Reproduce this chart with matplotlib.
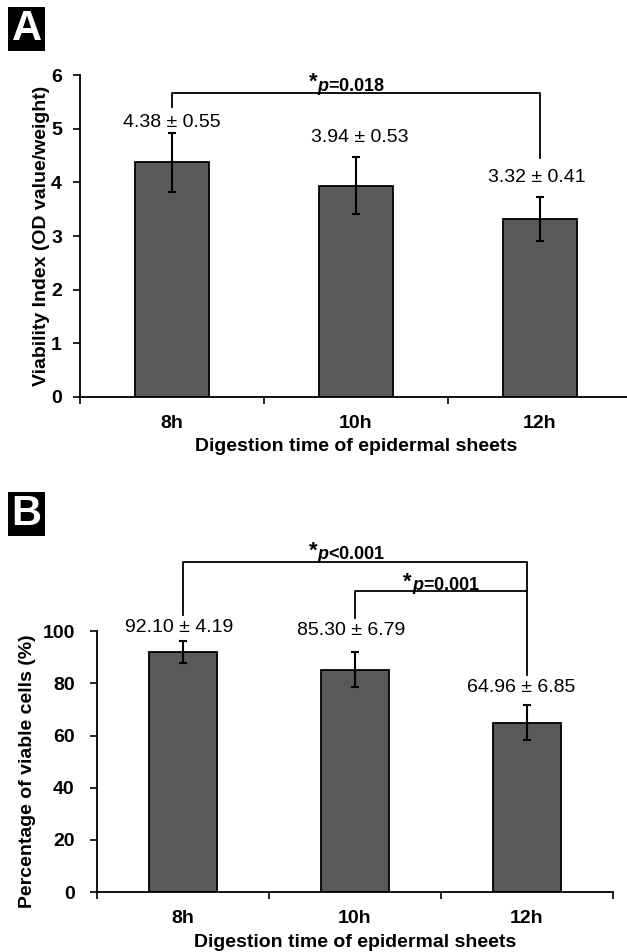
import matplotlib
matplotlib.use('Agg')
import matplotlib.pyplot as plt
from matplotlib.patches import Rectangle

plt.rcParams['font.family'] = ['Liberation Sans', 'DejaVu Sans']
plt.rcParams['mathtext.fontset'] = 'custom'
plt.rcParams['mathtext.it'] = 'Liberation Sans:italic:bold'
plt.rcParams['mathtext.bf'] = 'Liberation Sans:italic:bold'

# data
categories = ['8h', '10h', '12h']
viability_mean = [4.38, 3.94, 3.32]
viability_sd = [0.55, 0.53, 0.41]
viable_pct_mean = [92.10, 85.30, 64.96]
viable_pct_sd = [4.19, 6.79, 6.85]

# significance pairs: (from bar, to bar, bracket height, p text)
sig_a = [(1, 3, 5.66, 'p=0.018')]
sig_b = [(1, 3, 126.4, 'p<0.001'), (2, 3, 115.3, 'p=0.001')]

BAR_COLOR = '#595959'


def draw_panel(ax, means, sds, ymax, yticks, ylabel, ypad):
    x = [1, 2, 3]
    ax.bar(x, means, width=0.4, color=BAR_COLOR, edgecolor='black', linewidth=1.3, zorder=2)
    ax.errorbar(x, means, yerr=sds, fmt='none', ecolor='black', elinewidth=1.5,
                capsize=3, capthick=1.5, zorder=3)
    ax.set_xlim(0.5, 3.5)
    ax.set_ylim(0, ymax)
    ax.set_yticks(yticks)
    ax.set_xticks(x)
    ax.set_xticklabels(categories)
    ax.set_xticks([0.5, 1.5, 2.5, 3.5], minor=True)
    ax.tick_params(axis='x', which='major', length=0, pad=13, labelsize=14)
    ax.tick_params(axis='x', which='minor', length=5, width=1.2, direction='out')
    ax.tick_params(axis='y', length=5, width=1.2, direction='out', labelsize=14, pad=ypad)
    for lab in ax.get_xticklabels() + ax.get_yticklabels():
        lab.set_fontweight('bold')
    for s in ['top', 'right']:
        ax.spines[s].set_visible(False)
    for s in ['left', 'bottom']:
        ax.spines[s].set_linewidth(1.3)
    ax.set_ylabel(ylabel, fontsize=14, fontweight='bold')
    ax.set_xlabel('Digestion time of epidermal sheets', fontsize=14, fontweight='bold')
    ax.xaxis.label.set_va('center')
    ax.yaxis.label.set_va('center')


def value_labels(ax, means, sds, offsets, dx):
    for i, (m, s) in enumerate(zip(means, sds)):
        ax.text(i + 1 + dx[i], m + s + offsets[i], f'{m:.2f} \u00b1 {s:.2f}',
                ha='center', va='center', fontsize=14)


def bracket(ax, x1, x2, h, d1, d2, text, tx, ty):
    ax.plot([x1, x1, x2, x2], [d1, h, h, d2], color='black', lw=1.3, clip_on=False, zorder=4)
    ax.text(tx, ty, '*', ha='right', va='center', fontsize=16, fontweight='bold')
    ax.text(tx, ty - 0.012 * ax.get_ylim()[1], r'$\mathit{p}$' + text[1:], ha='left',
            va='center', fontsize=13, fontweight='bold')


fig = plt.figure(figsize=(6.27, 9.52), dpi=100)

# panel A
ax1 = fig.add_axes([80 / 627, 0.583, 552 / 627, 0.338])
draw_panel(ax1, viability_mean, viability_sd, 6, range(0, 7), 'Viability Index (OD value/weight)', 8)
ax1.xaxis.set_label_coords(0.5, -0.155)
ax1.yaxis.set_label_coords(-0.069, 0.5)
value_labels(ax1, viability_mean, viability_sd, [0.19, 0.36, 0.37], [0, 0.02, -0.02])
x1, x2, h, t = sig_a[0]
bracket(ax1, x1, x2, h, 5.40, 4.45, t, 1.79, 5.87)

# panel B
ax2 = fig.add_axes([97 / 627, 0.063, 516 / 627, 0.274])
draw_panel(ax2, viable_pct_mean, viable_pct_sd, 100, range(0, 101, 20), 'Percentage of viable cells (%)', 11)
ax2.xaxis.set_label_coords(0.5, -0.195)
ax2.yaxis.set_label_coords(-0.134, 0.464)
value_labels(ax2, viable_pct_mean, viable_pct_sd, [5.2, 8.3, 6.7], [-0.02, -0.02, -0.035])
x1, x2, h, t = sig_b[0]
bracket(ax2, x1, x2, h, 106.1, 83.1, t, 1.78, 130.5)
x1, x2, h, t = sig_b[1]
bracket(ax2, x1, x2, h, 105.0, h, t, 2.33, 118.6)

# panel letters
for letter, ytop in [('A', 7), ('B', 492)]:
    fig.patches.append(Rectangle((8 / 627, 1 - (ytop + 44) / 952), 37 / 627, 44 / 952,
                                 transform=fig.transFigure, facecolor='black', edgecolor='none'))
    fig.text(26.5 / 627, 1 - (ytop + 22) / 952, letter, color='white', fontsize=30,
             fontweight='bold', ha='center', va='center')

fig.savefig('out.png', dpi=100)
